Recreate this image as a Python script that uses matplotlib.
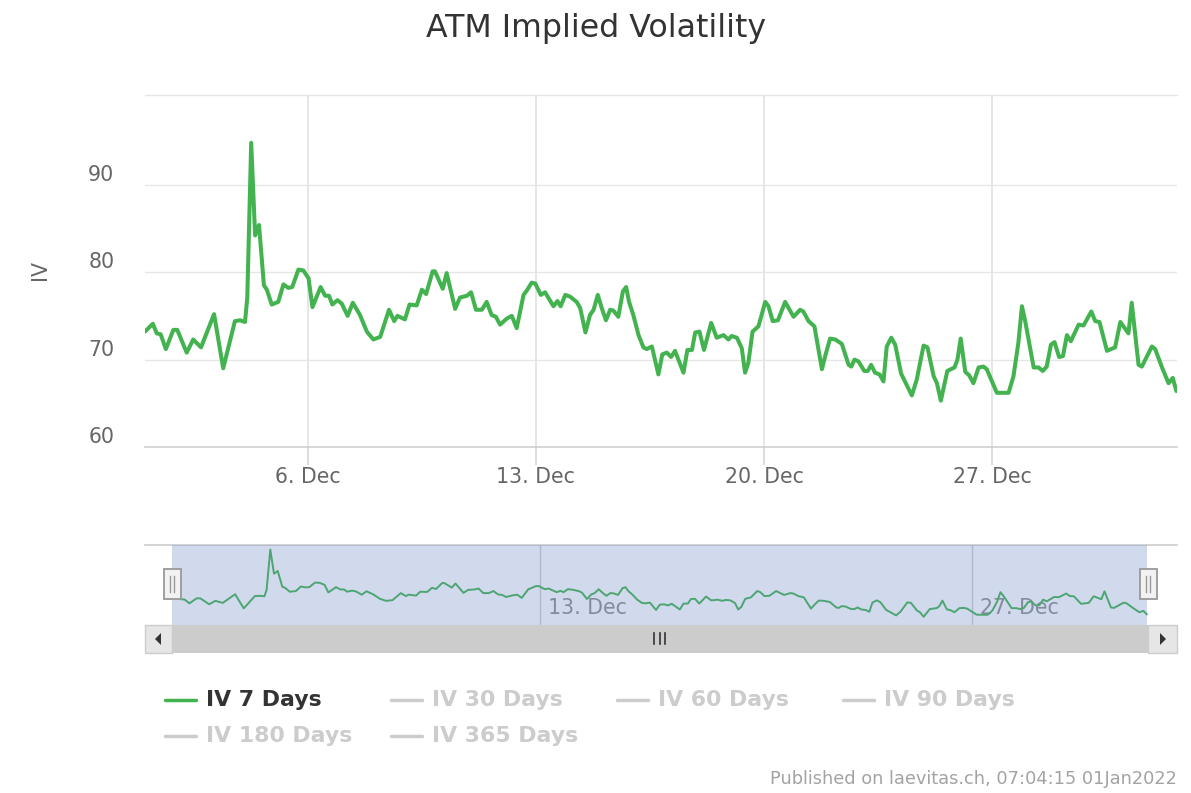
#!/usr/bin/env python3
"""ATM implied volatility chart with navigator strip and legend."""

import matplotlib
matplotlib.use('Agg')
import matplotlib.pyplot as plt
from matplotlib.patches import Polygon, Rectangle

plt.rcParams['font.family'] = ['DejaVu Sans']

W, H = 1191, 793

# December day of month (values past 31 run into January) and IV
days = [
    1.00, 1.24, 1.36, 1.48, 1.64, 1.87, 1.99, 2.28, 2.48, 2.72, 3.12, 3.40, 3.76, 3.92, 4.07, 4.14,
    4.26, 4.38, 4.50, 4.65, 4.74, 4.89, 5.09, 5.25, 5.40, 5.52, 5.71, 5.86, 6.02, 6.14, 6.39, 6.53,
    6.65, 6.75, 6.91, 7.04, 7.22, 7.38, 7.60, 7.81, 8.01, 8.22, 8.49, 8.65, 8.75, 8.98, 9.12, 9.34,
    9.50, 9.63, 9.83, 9.90, 10.14, 10.26, 10.52, 10.67, 10.88, 11.01, 11.16, 11.34, 11.49, 11.64,
    11.77, 11.90, 12.11, 12.26, 12.41, 12.62, 12.72, 12.87, 12.98, 13.15, 13.28, 13.54, 13.66, 13.76,
    13.90, 14.05, 14.25, 14.36, 14.52, 14.66, 14.77, 14.90, 15.02, 15.15, 15.28, 15.38, 15.53, 15.67,
    15.77, 15.86, 15.99, 16.15, 16.30, 16.40, 16.56, 16.76, 16.88, 17.02, 17.15, 17.27, 17.53, 17.65,
    17.79, 17.89, 18.02, 18.16, 18.38, 18.55, 18.76, 18.91, 19.01, 19.17, 19.32, 19.42, 19.52, 19.65,
    19.83, 20.04, 20.14, 20.27, 20.43, 20.65, 20.91, 21.11, 21.21, 21.37, 21.55, 21.78, 21.88, 22.03,
    22.19, 22.39, 22.60, 22.68, 22.78, 22.90, 23.08, 23.19, 23.29, 23.41, 23.55, 23.67, 23.77, 23.91,
    24.03, 24.21, 24.54, 24.69, 24.90, 25.02, 25.21, 25.31, 25.43, 25.63, 25.85, 25.94, 26.04, 26.18,
    26.30, 26.43, 26.59, 26.74, 26.84, 27.15, 27.51, 27.66, 27.81, 27.92, 28.02, 28.28, 28.43, 28.56,
    28.68, 28.81, 28.92, 29.06, 29.18, 29.30, 29.42, 29.66, 29.81, 30.05, 30.17, 30.30, 30.53, 30.78,
    30.94, 31.19, 31.29, 31.50, 31.60, 31.91, 32.01, 32.22, 32.42, 32.55, 32.66,
]
iv_7d = [
    73.2, 74.1, 73.0, 72.9, 71.2, 73.4, 73.4, 70.8, 72.3, 71.4, 75.2, 69.0, 74.4, 74.5, 74.3, 77.1,
    94.8, 84.2, 85.4, 78.5, 78.0, 76.3, 76.6, 78.6, 78.2, 78.3, 80.3, 80.2, 79.3, 76.0, 78.3, 77.3,
    77.3, 76.3, 76.8, 76.4, 75.0, 76.5, 75.1, 73.2, 72.3, 72.6, 75.7, 74.4, 75.0, 74.6, 76.3, 76.2,
    78.0, 77.5, 80.1, 80.1, 78.1, 79.9, 75.8, 77.1, 77.3, 77.7, 75.7, 75.7, 76.6, 75.1,
    74.9, 74.0, 74.7, 75.0, 73.6, 77.4, 77.9, 78.8, 78.7, 77.4, 77.7, 76.1, 76.7, 76.1,
    77.4, 77.2, 76.6, 75.9, 73.1, 75.1, 75.7, 77.4, 75.9, 74.5, 75.7, 75.6, 74.9, 77.8,
    78.3, 76.6, 75.1, 72.8, 71.4, 71.2, 71.5, 68.3, 70.6, 70.8, 70.3, 71.0, 68.5, 71.1,
    71.1, 73.1, 73.2, 71.1, 74.2, 72.5, 72.8, 72.3, 72.7, 72.5, 71.3, 68.5, 69.6, 73.2,
    73.8, 76.6, 76.1, 74.4, 74.5, 76.6, 74.9, 75.7, 75.5, 74.4, 73.8, 68.9, 70.4, 72.4,
    72.3, 71.8, 69.4, 69.2, 70.0, 69.8, 68.7, 68.7, 69.4, 68.5, 68.3, 67.5, 71.5, 72.5,
    71.7, 68.4, 65.9, 67.7, 71.6, 71.4, 68.1, 67.3, 65.3, 68.7, 69.1, 70.0, 72.4, 68.6,
    68.2, 67.3, 69.1, 69.2, 68.9, 66.2, 66.2, 68.1, 71.9, 76.1, 74.4, 69.1, 69.1, 68.7,
    69.2, 71.7, 72.0, 70.3, 70.4, 72.8, 72.1, 74.0, 73.9, 75.5, 74.4, 74.3, 71.0, 71.4,
    74.3, 73.0, 76.5, 69.4, 69.2, 71.5, 71.2, 69.1, 67.3, 67.9, 66.4,
]

y_ticks = [60, 70, 80, 90]
y_labels = ['60', '70', '80', '90']
x_ticks = [6, 13, 20, 27]
x_labels = ['6. Dec', '13. Dec', '20. Dec', '27. Dec']
nav_ticks = [13, 27]
nav_labels = ['13. Dec', '27. Dec']
legend_names = ['IV 7 Days', 'IV 30 Days', 'IV 60 Days', 'IV 90 Days', 'IV 180 Days', 'IV 365 Days']

GREEN = '#43b350'
GRID = '#e6e6e6'
TEXT = '#666666'
HIDDEN = '#cccccc'


def axes_box(left, top, right, bottom):
    return [left / W, 1 - bottom / H, (right - left) / W, (bottom - top) / H]


fig = plt.figure(figsize=(W / 100, H / 100), dpi=100, facecolor='white')

fig.text(596.5 / W, 1 - 28 / H, 'ATM Implied Volatility', ha='center', va='center',
         fontsize=22.8, color='#333333')

# Main plot
ax = fig.add_axes(axes_box(145, 95, 1177, 447))
ax.plot(days, iv_7d, color=GREEN, lw=2.9, solid_joinstyle='round', solid_capstyle='round', zorder=3)
ax.set_xlim(1.0, 32.68)
ax.set_ylim(60, 100.27)
ax.set_yticks(y_ticks, y_labels)
ax.set_xticks(x_ticks, x_labels)
ax.grid(True, axis='y', color=GRID, lw=1.0)
ax.grid(True, axis='x', color=GRID, lw=1.4)
ax.tick_params(axis='y', length=0, labelsize=14.8, labelcolor=TEXT, pad=22)
ax.tick_params(axis='x', length=13, width=1.2, color='#d6d6d6', labelsize=14.8, labelcolor=TEXT, pad=1.5)
for lab in ax.get_yticklabels():
    lab.set_verticalalignment('bottom')
    lab.set_y(0.15)
for side in ['left', 'right']:
    ax.spines[side].set_visible(False)
ax.spines['top'].set_color(GRID)
ax.spines['top'].set_linewidth(1.0)
ax.spines['bottom'].set_color('#cfcfcf')
ax.spines['bottom'].set_linewidth(1.2)
ax.set_axisbelow(True)
fig.text(40 / W, 1 - 270 / H, 'IV', rotation=90, ha='center', va='center', fontsize=14.8, color=TEXT)

# Navigator strip
nav = fig.add_axes(axes_box(145, 545, 1177, 625))
nav.plot(days, iv_7d, color=GREEN, lw=1.4, zorder=2)
nav.set_xlim(0.2, 33.64)
nav.set_ylim(61.7, 96.8)
nav.set_xticks(nav_ticks)
nav.set_xticklabels([])
nav.set_yticks([])
nav.grid(True, axis='x', color='#d0d0d0', lw=1)
nav.tick_params(length=0)
for tick, label in zip(nav_ticks, nav_labels):
    nav.annotate(label, xy=(tick, 0), xycoords=('data', 'axes fraction'), xytext=(6, 12),
                 textcoords='offset points', fontsize=14.8, color='#8f8f8f', va='center', zorder=1)
for side in ['left', 'right', 'bottom']:
    nav.spines[side].set_visible(False)
nav.spines['top'].set_color('#cccccc')
nav.spines['top'].set_linewidth(1.2)
nav.axvspan(1.07, 32.68, color=(102 / 255, 133 / 255, 194 / 255, 0.3), lw=0, zorder=4)

# Overlay in pixel coordinates for the scrollbar, handles and legend
ui = fig.add_axes([0, 0, 1, 1])
ui.set_xlim(0, W)
ui.set_ylim(H, 0)
ui.axis('off')
ui.patch.set_alpha(0)

ui.add_patch(Rectangle((145, 625), 1032, 28, fc='#f2f2f2', ec='none'))
ui.add_patch(Rectangle((172, 625), 976, 28, fc='#cccccc', ec='none'))
ui.add_patch(Rectangle((145, 625), 27, 28, fc='#e6e6e6', ec='#cccccc', lw=1))
ui.add_patch(Rectangle((1148, 625), 29, 28, fc='#e6e6e6', ec='#cccccc', lw=1))
ui.add_patch(Polygon([(161, 633), (161, 645), (155, 639)], closed=True, fc='#333333', ec='none'))
ui.add_patch(Polygon([(1160, 633), (1160, 645), (1166, 639)], closed=True, fc='#333333', ec='none'))
for gx in [654, 659.5, 665]:
    ui.plot([gx, gx], [633, 644], color='#333333', lw=1.2)

for hx in [172, 1148]:
    ui.add_patch(Rectangle((hx - 8.5, 569), 17, 30, fc='#f2f2f2', ec='#999999', lw=1.3, zorder=5))
    for dx in [-2, 2]:
        ui.plot([hx + dx, hx + dx], [576, 592], color='#999999', lw=1, zorder=6)

legend_x = [165, 391, 617, 843, 165, 391]
legend_y = [700, 700, 700, 700, 736, 736]
for i, name in enumerate(legend_names):
    col = GREEN if i == 0 else HIDDEN
    tcol = '#333333' if i == 0 else HIDDEN
    ui.plot([legend_x[i], legend_x[i] + 31], [legend_y[i], legend_y[i]], color=col, lw=2.5,
            solid_capstyle='round')
    ui.text(legend_x[i] + 41.5, legend_y[i], name, fontsize=15.8, fontweight='bold', color=tcol,
            ha='left', va='center')

ui.text(1177, 779, 'Published on laevitas.ch, 07:04:15 01Jan2022', fontsize=12.8, color='#a3a3a3',
        ha='right', va='center')

fig.savefig('out.png', dpi=100, facecolor='white')
plt.close(fig)
